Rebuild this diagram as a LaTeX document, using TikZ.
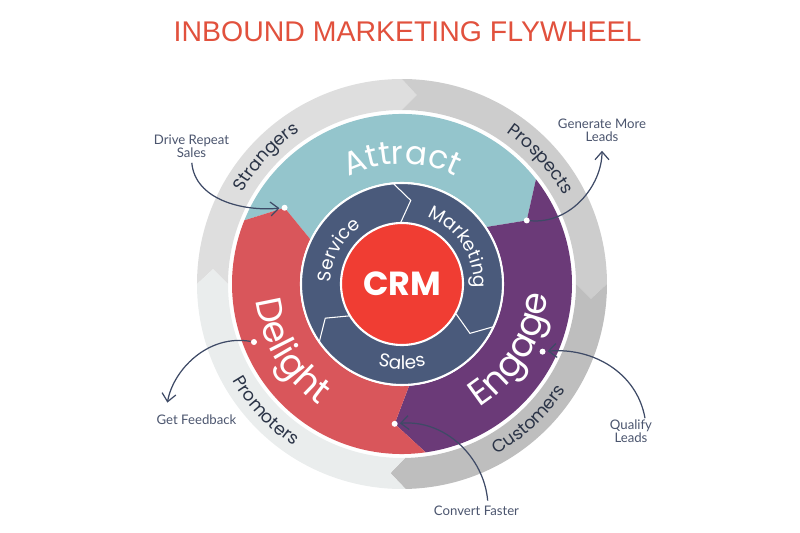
\documentclass[tikz,border=0pt]{standalone}
\usepackage{fontspec}
\usepackage{tikz}
\usetikzlibrary{arrows.meta,decorations.text}

\newfontfamily\popfont{Poppins}
\newfontfamily\latofont{Lato}
\newfontfamily\headfont{Liberation Sans}
\newcommand\bigtxt{\popfont\fontsize{20.5}{20.5}\selectfont}
\newcommand\attrtxt{\popfont\fontsize{18.5}{18.5}\selectfont}
\newcommand\ringtxt{\popfont\fontsize{10.5}{10.5}\selectfont}
\newcommand\outertxt{\popfont\fontsize{10}{10}\selectfont}

\definecolor{headred}{HTML}{E1513D}
\definecolor{attractc}{HTML}{94C5CC}
\definecolor{engagec}{HTML}{6B3A78}
\definecolor{delightc}{HTML}{D9565B}
\definecolor{ringblue}{HTML}{4A5A7B}
\definecolor{crmred}{HTML}{F03D33}
\definecolor{strc}{HTML}{DEDEDE}
\definecolor{prosc}{HTML}{CDCDCD}
\definecolor{custc}{HTML}{BEBEBE}
\definecolor{promc}{HTML}{EAEDED}
\definecolor{ringtext}{HTML}{2B3447}
\definecolor{calltext}{HTML}{4B556E}
\definecolor{arrowc}{HTML}{3E4A66}

\begin{document}
\begin{tikzpicture}[x=0.2mm, y=0.2mm,
    every node/.style={font=\latofont\fontsize{7.5}{7.2}\selectfont},
    callout/.style={text=calltext, align=center, inner sep=1pt},
    dot/.style={circle, fill=white, inner sep=0pt, minimum size=1.2mm},
    link/.style={draw=arrowc, line width=0.7pt, -{Straight Barb[length=1.6mm,width=2.8mm]}, shorten >=1pt},
    bigword/.style 2 args={decorate, decoration={text along path, text align=center, text color=white, text={|#1|#2}}},
    ringword/.style={decorate, decoration={text along path, text align=center, text color=white, text={|\ringtxt|#1}}},
    outerword/.style={decorate, decoration={text along path, text align=center, text color=ringtext, text={|\outertxt|#1}}}]
  \useasboundingbox (-402,-249) rectangle (398,284);

  % title
  \node[font=\headfont\fontsize{16.2}{18}\selectfont, text=headred] (title) at (5.5,252) {INBOUND MARKETING FLYWHEEL};

  % outer ring
  \foreach \a/\b/\col in {180/90/strc, 90/0/prosc, 0/-89/custc, -89/-180/promc}
    \fill[\col] (\a:205) arc[start angle=\a, end angle=\b, radius=205] -- ({\b-4.5}:189.5) -- (\b:174)
      arc[start angle=\b, end angle=\a, radius=174] -- ({\a-4.5}:189.5) -- cycle;

  % middle band
  \foreach \a/\b/\col in {158/38/attractc, 38/-82/engagec, -82/-202/delightc}
    \fill[\col] (\a:170) arc[start angle=\a, end angle=\b, radius=170] -- ({\b-11}:140) -- ({\b-4}:102)
      arc[start angle=\b-4, end angle=\a-4, radius=102] -- ({\a-11}:140) -- cycle;

  % inner ring and CRM
  \fill[ringblue, draw=white, line width=1.2pt] (0,0) circle[radius=101];
  \foreach \a in {95,-25,215}
    \draw[white, line width=0.6pt] (\a:101) -- ({\a-11}:84) -- ({\a-4}:62);
  \node[circle, fill=crmred, draw=white, line width=1.2pt, minimum size=24.4mm, text=white,
    font=\popfont\bfseries\fontsize{19}{19}\selectfont] (crm) at (0,0) {CRM};

  % words on the rings
  \path[bigword={\attrtxt}{Attract}] (150:120) arc[start angle=150, end angle=30, radius=120];
  \path[bigword={\bigtxt}{Engage}] (-81:146) arc[start angle=-81, end angle=19, radius=146];
  \path[bigword={\bigtxt}{Delight}] (161:147) arc[start angle=161, end angle=261, radius=147];
  \path[ringword=Service] (202:71) arc[start angle=202, end angle=102, radius=71];
  \path[ringword=Marketing] (83:72) arc[start angle=83, end angle=-17, radius=72];
  \path[ringword=Sales] (220:85) arc[start angle=220, end angle=320, radius=85];
  \path[outerword=Strangers] (187:184) arc[start angle=187, end angle=87, radius=184];
  \path[outerword=Prospects] (92:184) arc[start angle=92, end angle=-8, radius=184];
  \path[outerword=Customers] (-97:195) arc[start angle=-97, end angle=3, radius=195];
  \path[outerword=Promoters] (173:195) arc[start angle=173, end angle=273, radius=195];

  % dots
  \node[dot] (dAE) at (27:140) {};
  \node[dot] (dDA) at (147:140) {};
  \node[dot] (dED) at (267:140) {};
  \node[dot] (dDel) at (201.4:159) {};
  \node[dot] (dEng) at (-25.7:156) {};

  % callouts
  \node[callout] (drive) at (-210.5,138) {Drive Repeat\\Sales};
  \node[callout] (gen) at (200,153.5) {Generate More\\Leads};
  \node[callout] (gf) at (-205.5,-136) {Get Feedback};
  \node[callout] (ql) at (229,-147.5) {Qualify\\Leads};
  \node[callout] (cf) at (74.5,-227) {Convert Faster};

  \draw[link, shorten <=2pt] (drive.south) to[out=-85, in=185] (dDA);
  \draw[link, shorten >=4pt] (dAE) to[out=-5, in=-90] (gen.south);
  \draw[link, shorten >=6pt] (dDel) to[out=170, in=80] ([xshift=2.2mm]gf.north west);
  \draw[link] ([xshift=2.8mm]ql.north) to[out=100, in=5] (dEng);
  \draw[link, shorten <=2pt] ([xshift=2.3mm]cf.north) to[out=95, in=5] (dED);
\end{tikzpicture}
\end{document}
